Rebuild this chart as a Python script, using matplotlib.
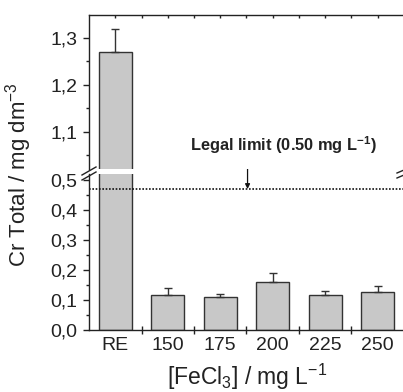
import numpy as np
import matplotlib.pyplot as plt
from matplotlib.lines import Line2D
from matplotlib.ticker import MultipleLocator

plt.rcParams['font.family'] = ['Liberation Sans', 'DejaVu Sans']
plt.rcParams['mathtext.default'] = 'regular'

# --- datos ---------------------------------------------------------------
categorias = ["RE", "150", "175", "200", "225", "250"]
cr_total = [1.27, 0.117, 0.110, 0.161, 0.118, 0.126]
error_sup = [0.05, 0.022, 0.010, 0.030, 0.011, 0.021]
limite_linea = 0.47      # donde está dibujada la línea punteada

W, H = 403, 392
fig = plt.figure(figsize=(W / 100, H / 100), dpi=100)

def fx(px):
    return px / W

def fy(py):
    return (H - py) / H

# eje inferior (0 - 0.52) y superior (1.02 - 1.35), corte entre ambos
ax_lo = fig.add_axes([fx(89), fy(330), fx(404) - fx(89), fy(174) - fy(330)])
ax_up = fig.add_axes([fx(89), fy(169), fx(404) - fx(89), fy(15) - fy(169)])

x = np.arange(len(categorias))
gris = "#c8c8c8"
borde = "#333333"

for ax in (ax_lo, ax_up):
    ax.bar(x, cr_total, width=0.63, color=gris, edgecolor=borde, linewidth=1.0,
           yerr=[np.zeros(len(x)), error_sup], capsize=3,
           error_kw=dict(ecolor=borde, elinewidth=1.0, capthick=1.0))
    ax.set_xlim(-0.5, 5.5)
    ax.spines["right"].set_visible(False)
    for s in ax.spines.values():
        s.set_linewidth(1.0)
        s.set_color("#222222")
    ax.yaxis.set_major_locator(MultipleLocator(0.1))
    ax.yaxis.set_minor_locator(MultipleLocator(0.05))
    ax.tick_params(axis="y", which="major", direction="out", length=4.5,
                   width=1.0, labelsize=14, pad=4, color="#222222",
                   labelcolor="#222222")
    ax.tick_params(axis="y", which="minor", direction="out", length=2.2,
                   width=1.0, color="#222222")

ax_lo.set_ylim(0, 0.52)
ax_up.set_ylim(1.021, 1.349)

ax_lo.spines["top"].set_visible(False)
ax_up.spines["bottom"].set_visible(False)

fmt = lambda v, p: f"{v:.1f}".replace(".", ",")
ax_lo.yaxis.set_major_formatter(plt.FuncFormatter(fmt))
ax_up.yaxis.set_major_formatter(plt.FuncFormatter(fmt))

# eje x inferior: etiquetas en el centro, marcas entre categorías
ax_lo.set_xticks(x)
ax_lo.set_xticklabels(categorias)
ax_lo.set_xticks(np.arange(0.5, 5.0, 1.0), minor=True)
ax_lo.tick_params(axis="x", which="major", length=0, labelsize=14, pad=5,
                  labelcolor="#222222")
ax_lo.tick_params(axis="x", which="minor", direction="inout", length=6,
                  width=1.0, color="#222222")

# eje x superior: marcas hacia adentro cada media categoría
ax_up.set_xticks(np.arange(0, 5.6, 0.5))
ax_up.tick_params(axis="x", which="both", bottom=False, top=True,
                  labelbottom=False, direction="in", length=2.5, width=1.0,
                  color="#222222")

# línea del límite legal
ax_lo.axhline(limite_linea, color="#111111", linestyle=(0, (1, 1)), linewidth=1.2)

fig.text(fx(283), fy(145), "Legal limit (0.50 mg L$^{-1}$)", ha="center",
         va="center", fontsize=11.8, fontweight="bold", color="#222222")
ax_lo.annotate("", xy=(2.52, limite_linea), xytext=(2.52, 0.565),
               arrowprops=dict(arrowstyle="-|>", color="#111111", lw=0.9,
                               mutation_scale=7, shrinkA=0, shrinkB=0),
               annotation_clip=False)

# marcas de corte
for (x0, y0, x1, y1) in [(82, 175, 96, 167), (82, 180, 96, 172),
                         (397, 173, 404, 170), (397, 178, 404, 175)]:
    fig.add_artist(Line2D([fx(x0), fx(x1)], [fy(y0), fy(y1)],
                          transform=fig.transFigure, color="#222222", lw=1.0))

fig.text(fx(19), fy(175), "Cr Total / mg dm$^{-3}$", rotation=90,
         ha="center", va="center", fontsize=16, color="#222222")
fig.text(fx(247), fy(377), "[FeCl$_3$] / mg L$^{-1}$", ha="center",
         va="center", fontsize=16.5, color="#222222")

fig.savefig("out.png", dpi=100)
